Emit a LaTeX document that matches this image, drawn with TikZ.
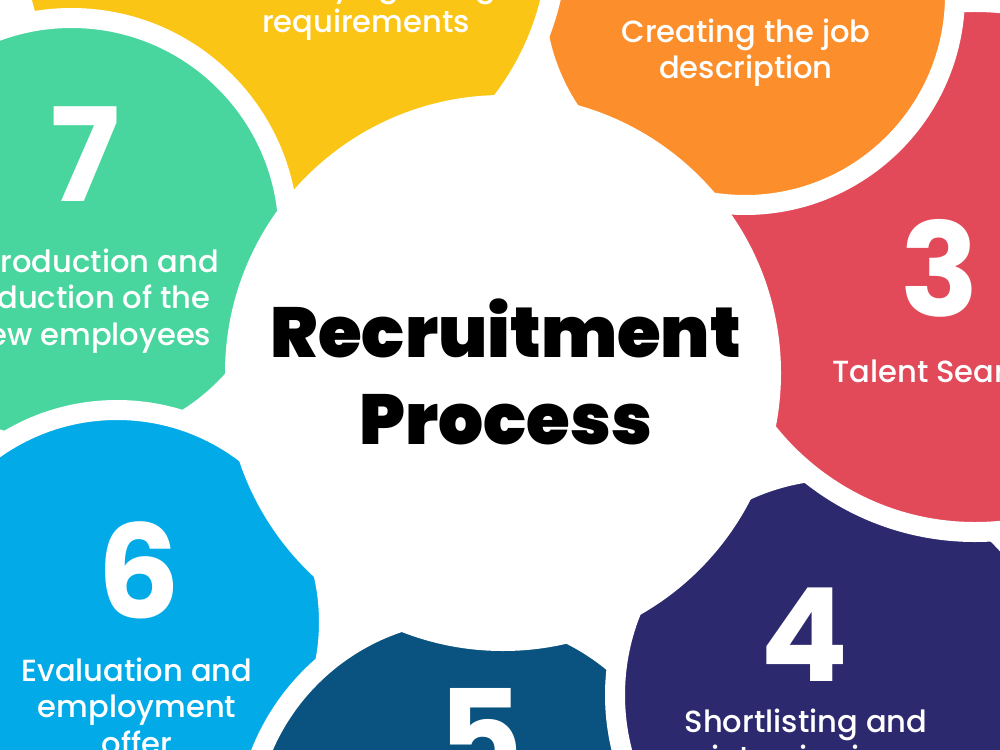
\documentclass[tikz,border=0pt]{standalone}
\usepackage{fontspec}
\setmainfont{Poppins}
\newfontfamily\stepfont{Poppins Medium}
\newfontfamily\titlefont{Poppins Black}
\definecolor{petalyellow}{HTML}{FAC514}
\definecolor{petalorange}{HTML}{FC8F2C}
\definecolor{petalred}{HTML}{E24A5A}
\definecolor{petalnavy}{HTML}{2D296E}
\definecolor{petalteal}{HTML}{0A5380}
\definecolor{petalblue}{HTML}{03AAE8}
\definecolor{petalgreen}{HTML}{48D69E}
\tikzset{
  petal/.style={fill=#1,draw=white,line width=0.4cm},
  steptext/.style={text=white,align=center,inner sep=0pt,font=\stepfont\fontsize{17.4}{20.7}\selectfont},
  stepnum/.style={text=white,inner sep=0pt,font=\fontsize{74}{74}\selectfont\bfseries},
}

\begin{document}
\begin{tikzpicture}[x=0.02cm,y=-0.02cm]
\useasboundingbox (0,0) rectangle (1000,750);
\clip (0,0) rectangle (1000,750);
\draw[petal=petalgreen] (71.5,235) circle[radius=217];
\draw[petal=petalblue] (117,622) circle[radius=212];
\draw[petal=petalteal] (470,836) circle[radius=225];
\draw[petal=petalnavy] (840,695) circle[radius=225];
\draw[petal=petalred] (975,267) circle[radius=265];
\draw[petal=petalorange] (745,-5) circle[radius=210];
\draw[petal=petalyellow] (286,-64) circle[radius=272];
\begin{scope}
\clip (0,0) rectangle (400,380);
\draw[petal=petalgreen] (71.5,235) circle[radius=217];
\end{scope}
\fill[white] (503,373) circle[radius=278];
\node[steptext] (txt1) at (366,7) {Identifying hiring\\requirements};
\node[steptext] (txt2) at (746,53) {Creating the job\\description};
\node[stepnum] (num3) at (940,268) {3};
\node[steptext,anchor=west] (txt3) at (832,371) {Talent Search};
\node[stepnum] (num4) at (804,635) {4};
\node[steptext] (txt4) at (806,743) {Shortlisting and\\interviewing};
\node[stepnum] (num5) at (481,736) {5};
\node[stepnum] (num6) at (139,570) {6};
\node[steptext] (txt6) at (137,706) {Evaluation and\\employment\\offer};
\node[stepnum] (num7) at (85,154) {7};
\node[steptext] (txt7) at (90,301) {Introduction and\\Induction of the\\new employees};
\node[inner sep=0pt,align=center,font=\titlefont\fontsize{40.3}{49.3}\selectfont] (title) at (506,372) {Recruitment\\Process};
\end{tikzpicture}
\end{document}
